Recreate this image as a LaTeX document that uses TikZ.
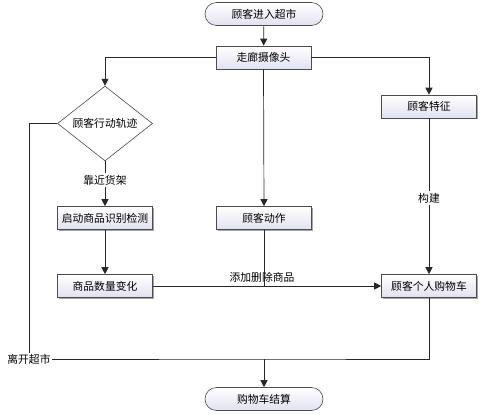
\documentclass[tikz,border=0pt]{standalone}
\usepackage{fontspec}
\newfontfamily\cjk{Noto Sans CJK SC}
\usetikzlibrary{shapes.geometric,shapes.misc,arrows.meta,shadows}
\definecolor{boxc}{RGB}{224,226,242}
\definecolor{linec}{RGB}{40,40,40}
\begin{document}
\begin{tikzpicture}[x=1pt,y=-1pt,
  font=\cjk\fontsize{10.8}{12}\selectfont,
  box/.style={draw=black!70, line width=0.6pt, top color=white, bottom color=boxc,
    minimum width=95pt, minimum height=23pt, inner sep=1pt,
    drop shadow={shadow xshift=1pt, shadow yshift=-1pt, opacity=0.35, fill=black}},
  term/.style={rounded rectangle, draw=black!70, line width=0.6pt, top color=white, bottom color=boxc,
    minimum width=120pt, minimum height=23pt, inner sep=1pt},
  dia/.style={diamond, draw=black!70, line width=0.6pt, top color=white, bottom color=white,
    minimum width=95pt, minimum height=57pt, inner sep=0pt},
  lbl/.style={fill=white, inner sep=1.5pt},
  conn/.style={draw=linec, line width=0.7pt},
  arr/.style={conn, -{Triangle[width=7pt,length=7pt]}}
]
\useasboundingbox (0,0) rectangle (480,415);

\node[term] (start) at (264,14) {顾客进入超市};
\node[box] (cam) at (263.5,57.5) {走廊摄像头};
\node[dia] (traj) at (105,123.5) {顾客行动轨迹};
\node[box] (feat) at (429,106.5) {顾客特征};
\node[box] (detect) at (105,218) {启动商品识别检测};
\node[box] (act) at (264,218) {顾客动作};
\node[box] (count) at (105,286) {商品数量变化};
\node[box] (cart) at (429,286) {顾客个人购物车};
\node[term] (end) at (264,399) {购物车结算};

\node[lbl] (near) at (105,180) {靠近货架};
\node[lbl] (build) at (429,198) {构建};
\node[inner sep=1pt, anchor=south] (adddel) at (262,284) {添加删除商品};
\node[inner sep=1pt] (leave) at (29,359) {离开超市};

\coordinate (j1) at (264,286);
\coordinate (j2) at (264,359);

\draw[arr] (start) -- (cam);
\draw[arr] (cam.west) -| (traj.north);
\draw[arr] (cam.east) -| (feat.north);
\draw[arr] (cam.south) -- (act.north);
\draw[conn] (traj.south) -- (near.north);
\draw[arr] (near.south) -- (detect.north);
\draw[arr] (detect.south) -- (count.north);
\draw[conn] (feat.south) -- (build.north);
\draw[arr] (build.south) -- (cart.north);
\draw[conn] (act.south) -- (j1);
\draw[arr] (count.east) -- (cart.west);
\draw[conn] (traj.west) -| (leave.north);
\draw[conn] (leave.east) -- (j2) -| (cart.south);
\draw[arr] (j2) -- (end.north);
\end{tikzpicture}
\end{document}
